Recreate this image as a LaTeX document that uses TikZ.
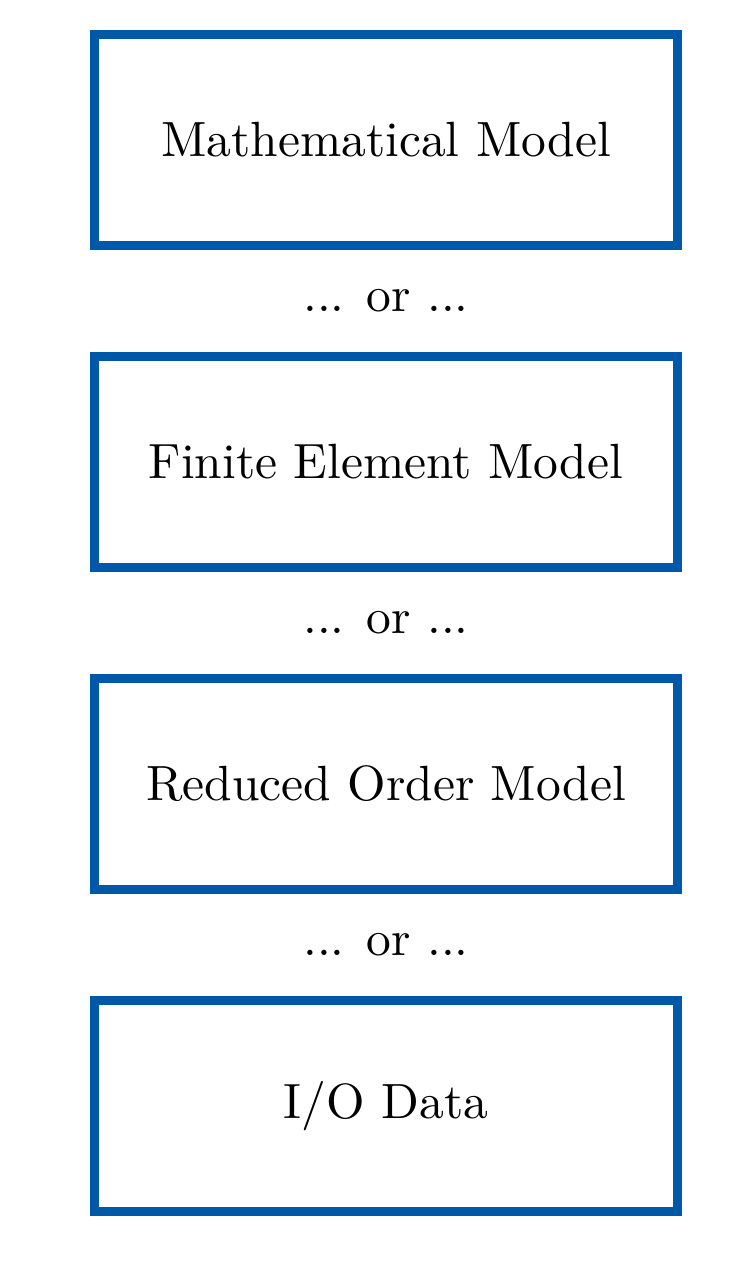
\documentclass[tikz,border=0pt]{standalone}
\usepackage{tikz}
\usetikzlibrary{positioning}
\definecolor{boxblue}{RGB}{0,88,168}

\begin{document}
\begin{tikzpicture}[x=0.202pt, y=-0.202pt]
\tikzset{modelbox/.style={draw=boxblue, line width=1.8pt, minimum width=117.7pt, minimum height=42.6pt, inner sep=0pt},
orlabel/.style={inner sep=1pt}}
\useasboundingbox (0,0) rectangle (750,1267);
\node[modelbox] (math) at (386,140) {Mathematical Model};
\node[orlabel] (or1) at (386,301) {... or ...};
\node[modelbox] (fem) at (386,462) {Finite Element Model};
\node[orlabel] (or2) at (386,623) {... or ...};
\node[modelbox] (rom) at (386,784) {Reduced Order Model};
\node[orlabel] (or3) at (386,945) {... or ...};
\node[modelbox] (io) at (386,1106) {I/O Data};
\end{tikzpicture}
\end{document}
